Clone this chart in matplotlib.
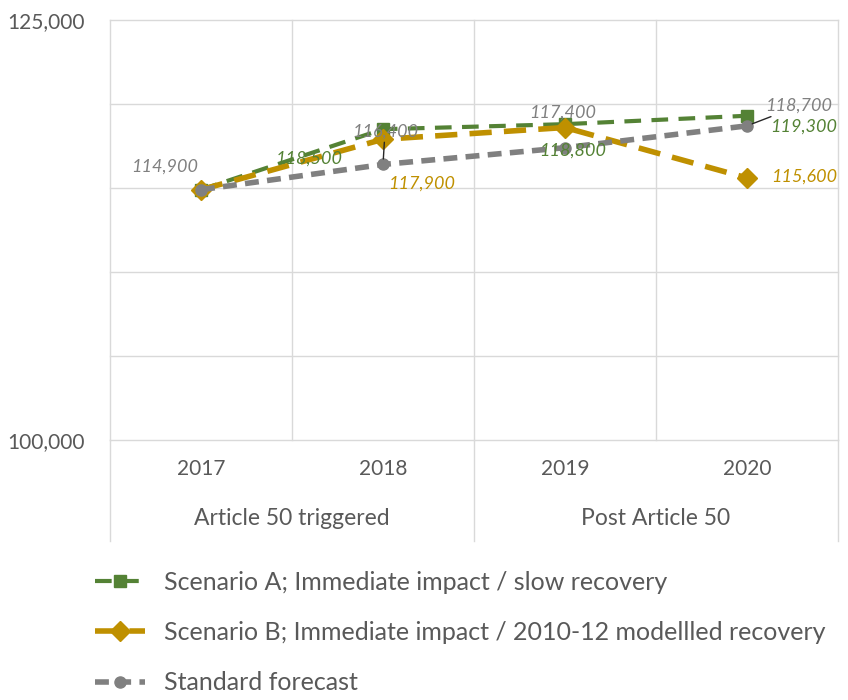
import matplotlib
matplotlib.use("Agg")
import matplotlib.pyplot as plt
from matplotlib.lines import Line2D

plt.rcParams['font.family'] = ['Lato', 'DejaVu Sans']

years = ["2017", "2018", "2019", "2020"]
groups = ["Article 50 triggered", "Post Article 50"]
scenario_a = [114900, 118500, 118800, 119300]
scenario_b = [114900, 117900, 118600, 115600]
standard = [114900, 116400, 117400, 118700]
series_names = ["Scenario A; Immediate impact / slow recovery",
                "Scenario B; Immediate impact / 2010-12 modellled recovery",
                "Standard forecast"]
y_min, y_max = 100000, 125000

GREEN = "#548235"
GOLD = "#BF9000"
GREY = "#808080"
GRID = "#d9d9d9"
TEXT = "#595959"

W, H = 848, 700
fig = plt.figure(figsize=(W / 100, H / 100), dpi=100)
ax = fig.add_axes([110 / W, (H - 440) / H, 728 / W, 420 / H])

x = list(range(len(years)))
ax.set_xlim(-0.5, len(years) - 0.5)
ax.set_ylim(y_min, y_max)

# grid
for v in range(y_min, y_max + 1, 5000):
    ax.axhline(v, color=GRID, lw=1, zorder=0, clip_on=False)
for b in [-0.5, 0.5, 1.5, 2.5, 3.5]:
    ax.axvline(b, color=GRID, lw=1, zorder=0, clip_on=False)
for s in ax.spines.values():
    s.set_visible(False)

ax.set_yticks([y_min, y_max])
ax.set_yticklabels([f"{y_min:,}", f"{y_max:,}"], fontsize=15, color=TEXT)
ax.tick_params(axis="y", length=0, pad=18)
ax.set_xticks([])

# year and group labels under the axis
for i, yr in enumerate(years):
    ax.text(i, -0.07, yr, transform=ax.get_xaxis_transform(), ha="center",
            va="center", fontsize=15, color=TEXT)
for j, g in enumerate(groups):
    ax.text(0.5 + 2 * j, -0.186, g, transform=ax.get_xaxis_transform(),
            ha="center", va="center", fontsize=16.5, color=TEXT)
for b in [-0.5, 1.5, 3.5]:
    ax.add_line(Line2D([b, b], [0, -0.24], transform=ax.get_xaxis_transform(),
                       color=GRID, lw=1, clip_on=False))

# series
la, = ax.plot(x, scenario_a, color=GREEN, lw=3, ls=(0, (4, 2.5)),
              marker="s", ms=9, zorder=3, label=series_names[0])
lb, = ax.plot(x, scenario_b, color=GOLD, lw=4, ls=(0, (4, 2.2)),
              marker="D", ms=10, zorder=3, label=series_names[1])
ls_, = ax.plot(x, standard, color=GREY, lw=4, ls=(0, (2.5, 1.5)),
               marker="o", ms=8, zorder=4, label=series_names[2])

def label(i, vals, dx, dy, color, leader=False):
    kw = {}
    if leader:
        kw["arrowprops"] = dict(arrowstyle="-", color="#262626", lw=1,
                                shrinkA=0, shrinkB=4)
    ax.annotate(f"{vals[i]:,}", (i, vals[i]), xytext=(dx, dy),
                textcoords="offset pixels", ha="center", va="center",
                fontsize=13, style="italic", color=color, zorder=6, **kw)

label(0, standard, -36, 23, GREY)
label(1, scenario_a, -74, -29, GREEN)
label(1, standard, 2, 33, GREY, leader=True)
label(1, scenario_b, 39, -44, GOLD)
label(2, standard, -2, 35, GREY)
label(2, scenario_a, 8, -26, GREEN)
label(3, standard, 52, 20, GREY, leader=True)
label(3, scenario_a, 57, -11, GREEN)
label(3, scenario_b, 57, 1, GOLD)

fig.legend(handles=[la, lb, ls_], loc="upper left",
           bbox_to_anchor=(82 / W, 1 - 558 / H), frameon=False,
           fontsize=18, labelcolor=TEXT, handlelength=2.0,
           handletextpad=0.8, labelspacing=1.1, borderpad=0)

fig.savefig("out.png", dpi=100, facecolor="white")
